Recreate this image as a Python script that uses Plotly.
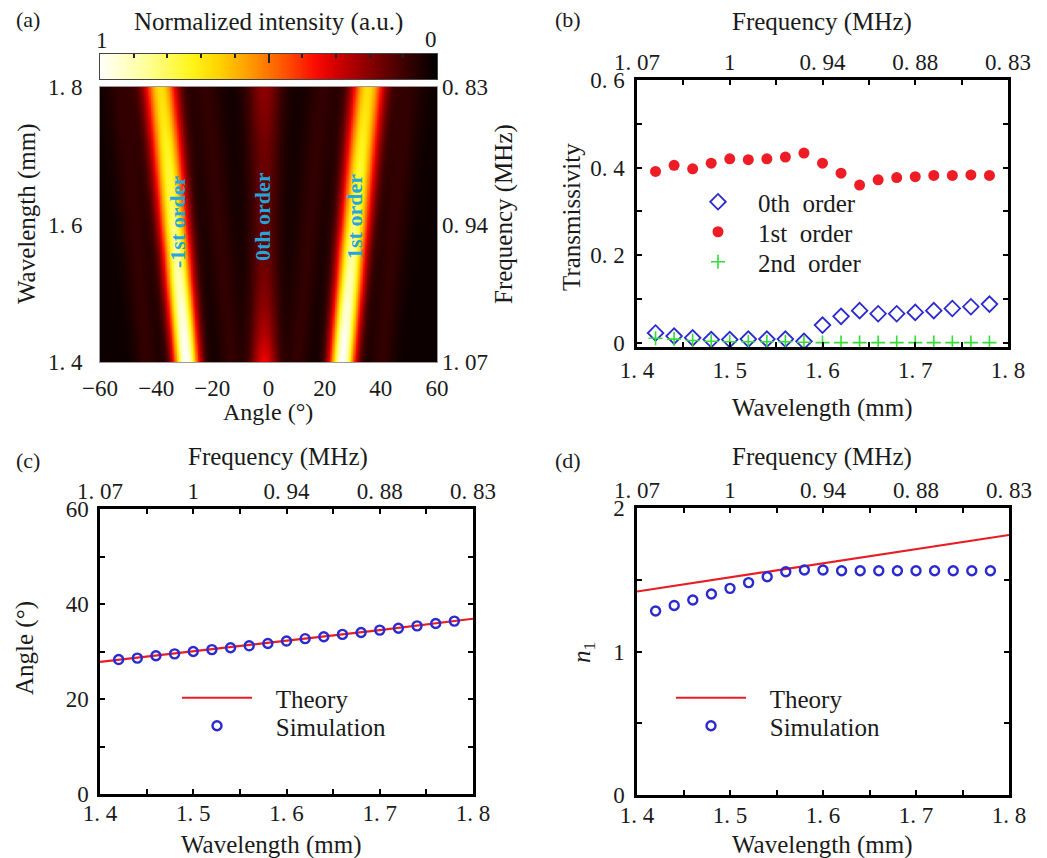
import numpy as np
import plotly.graph_objects as go

W, H = 1047, 858
FONT = "Liberation Serif"
TXT = "#1a1a1a"
NB = "\u00a0"

# ---------------- data ----------------
wavelength = [1.42, 1.44, 1.46, 1.48, 1.50, 1.52, 1.54, 1.56, 1.58, 1.60,
              1.62, 1.64, 1.66, 1.68, 1.70, 1.72, 1.74, 1.76, 1.78]
order0 = [0.022, 0.015, 0.011, 0.007, 0.007, 0.008, 0.008, 0.008, 0.003, 0.040,
          0.060, 0.073, 0.066, 0.066, 0.069, 0.073, 0.078, 0.082, 0.088]
order1 = [0.391, 0.405, 0.397, 0.410, 0.420, 0.418, 0.420, 0.424, 0.433, 0.410,
          0.387, 0.360, 0.372, 0.377, 0.379, 0.382, 0.382, 0.383, 0.382]
order2 = [0.010, 0.008, 0.005, 0.003, 0.002, 0.002, 0.002, 0.002, 0.001, 0.0,
          0.0, 0.0, 0.0, 0.0, 0.0, 0.0, 0.0, 0.0, 0.0]
sim_angle = [28.3, 28.6, 29.1, 29.5, 30.0, 30.4, 30.8, 31.2, 31.7, 32.2,
             32.7, 33.1, 33.6, 34.0, 34.5, 34.9, 35.4, 35.9, 36.4]
sim_n1 = [1.282, 1.321, 1.359, 1.401, 1.440, 1.480, 1.521, 1.556, 1.568, 1.568,
          1.563, 1.563, 1.563, 1.563, 1.563, 1.563, 1.563, 1.563, 1.563]
theory_wl = [1.40, 1.50, 1.60, 1.70, 1.80]
theory_angle = [27.8, 30.0, 32.2, 34.5, 36.9]
theory_n1 = [1.418, 1.517, 1.615, 1.713, 1.812]

# field map (panel a)
map_wavelength = [1.40, 1.44, 1.48, 1.52, 1.56, 1.60, 1.64, 1.68, 1.72, 1.76, 1.80]
map_half_angle = [27.8, 28.6, 29.5, 30.4, 31.2, 32.2, 33.1, 34.0, 34.9, 35.9, 36.9]
map_first_peak = [1.00, 0.97, 0.93, 0.89, 0.85, 0.81, 0.77, 0.74, 0.71, 0.68, 0.66]
map_zero_peak = [0.32, 0.24, 0.19, 0.16, 0.14, 0.13, 0.13, 0.14, 0.15, 0.17, 0.19]
map_beam_width = [3.1, 3.2, 3.3, 3.4, 3.5, 3.6, 3.7, 3.8, 3.9, 4.0, 4.1]
map_axis_angle = -1.6
side_lobe_offsets = [-16.0, 14.0]
side_lobe_level = 0.06
background_level = 0.02

angle_grid = np.linspace(-60, 60, 481)

freq_ticks = [1.4, 1.5, 1.6, 1.7, 1.8]
freq_text = ["1. 07", "1", "0. 94", "0. 88", "0. 83"]
wl_text = ["1. 4", "1. 5", "1. 6", "1. 7", "1. 8"]


def g(a, c, w):
    return np.exp(-0.5 * ((a - c) / w) ** 2)


z = []
for th, p1, p0, w in zip(map_half_angle, map_first_peak, map_zero_peak, map_beam_width):
    c = map_axis_angle
    row = background_level + p0 * g(angle_grid, c, w * 1.1) \
        + p1 * (g(angle_grid, c - th, w) + g(angle_grid, c + th, w))
    for off in side_lobe_offsets:
        row = row + side_lobe_level * (g(angle_grid, c - th - off, w) + g(angle_grid, c + th + off, w))
    z.append(np.clip(row, 0, 1))
z = np.array(z)

hot = [[0.0, 'rgb(0,0,0)'], [0.1, 'rgb(62,0,0)'], [0.2, 'rgb(135,0,0)'],
       [0.3, 'rgb(210,0,0)'], [0.36, 'rgb(250,10,0)'], [0.45, 'rgb(255,80,0)'],
       [0.55, 'rgb(255,150,0)'], [0.65, 'rgb(255,212,0)'], [0.73, 'rgb(255,245,25)'],
       [0.86, 'rgb(255,255,150)'], [1.0, 'rgb(255,255,250)']]

cb_vals = np.linspace(0, 1, 201)


def px(p):
    return p / W


def py(p):
    return 1 - p / H


fig = go.Figure()

# panel a
fig.add_trace(go.Heatmap(x=angle_grid, y=map_wavelength, z=z, colorscale=hot, zmin=0, zmax=1,
                         zsmooth='best', showscale=False, xaxis='x', yaxis='y', hoverinfo='skip'))
# invisible carrier for the right-hand frequency axis
fig.add_trace(go.Scatter(x=map_half_angle, y=map_wavelength, mode='markers', marker=dict(opacity=0),
                         showlegend=False, hoverinfo='skip', xaxis='x', yaxis='y2'))
# colour bar as its own strip (1 on the left, 0 on the right)
fig.add_trace(go.Heatmap(x=cb_vals, y=[0.5], z=[cb_vals], colorscale=hot, zmin=0, zmax=1,
                         zsmooth='best', showscale=False, xaxis='x2', yaxis='y3', hoverinfo='skip'))

# panel b
fig.add_trace(go.Scatter(x=wavelength, y=order0, mode='markers', name='0th' + NB + ' order',
                         marker=dict(symbol='diamond-open', size=12, color='#2a2ad0', line=dict(width=1.8)),
                         xaxis='x3', yaxis='y4', legend='legend'))
fig.add_trace(go.Scatter(x=wavelength, y=order1, mode='markers', name='1st' + NB + ' order',
                         marker=dict(symbol='circle', size=11, color='#ee1c24'),
                         xaxis='x3', yaxis='y4', legend='legend4'))
fig.add_trace(go.Scatter(x=wavelength, y=order2, mode='markers', name='2nd' + NB + ' order',
                         marker=dict(symbol='cross-thin-open', size=10, color='#33dd33', line=dict(width=1.6)),
                         xaxis='x3', yaxis='y4', legend='legend5'))
fig.add_trace(go.Scatter(x=wavelength, y=order1, mode='markers', marker=dict(opacity=0),
                         showlegend=False, hoverinfo='skip', xaxis='x4', yaxis='y4'))

# panel c
fig.add_trace(go.Scatter(x=theory_wl, y=theory_angle, mode='lines', name=NB * 3 + 'Theory',
                         line=dict(color='#e81c24', width=2.2), xaxis='x5', yaxis='y5', legend='legend2'))
fig.add_trace(go.Scatter(x=wavelength, y=sim_angle, mode='markers', name=NB * 3 + 'Simulation',
                         marker=dict(symbol='circle-open', size=9, color='#2a2ad0', line=dict(width=2.4)),
                         xaxis='x5', yaxis='y5', legend='legend6'))
fig.add_trace(go.Scatter(x=wavelength, y=sim_angle, mode='markers', marker=dict(opacity=0),
                         showlegend=False, hoverinfo='skip', xaxis='x6', yaxis='y5'))

# panel d
fig.add_trace(go.Scatter(x=theory_wl, y=theory_n1, mode='lines', name=NB * 3 + 'Theory',
                         line=dict(color='#e81c24', width=2.2), xaxis='x7', yaxis='y6', legend='legend3'))
fig.add_trace(go.Scatter(x=wavelength, y=sim_n1, mode='markers', name=NB * 3 + 'Simulation',
                         marker=dict(symbol='circle-open', size=9, color='#2a2ad0', line=dict(width=2.4)),
                         xaxis='x7', yaxis='y6', legend='legend7'))
fig.add_trace(go.Scatter(x=wavelength, y=sim_n1, mode='markers', marker=dict(opacity=0),
                         showlegend=False, hoverinfo='skip', xaxis='x8', yaxis='y6'))

tickfont = dict(family=FONT, size=23, color=TXT)
legfont = dict(family=FONT, size=25, color=TXT)

frame = dict(showline=True, linewidth=2.5, linecolor='black', mirror='allticks',
             ticks='inside', ticklen=5, tickwidth=2, tickcolor='black', automargin=False,
             showgrid=False, zeroline=False, tickfont=tickfont, ticklabelstandoff=0)


def bottom_x(dom, anchor, standoff):
    return dict(frame, domain=dom, anchor=anchor, range=[1.4, 1.8], tickmode='array',
                tickvals=freq_ticks, ticktext=wl_text, ticklabelstandoff=standoff,
                minor=dict(dtick=0.05, tick0=1.4, ticks='inside', ticklen=5, tickwidth=2, tickcolor='black'))


def top_x(over, anchor):
    return dict(overlaying=over, anchor=anchor, side='top', range=[1.4, 1.8], tickmode='array',
                tickvals=freq_ticks, ticktext=freq_text, ticks='', showline=False, automargin=False,
                showgrid=False, zeroline=False, tickfont=tickfont, ticklabelstandoff=4)


def left_y(dom, anchor, rng, vals, texts, minor, standoff):
    return dict(frame, domain=dom, anchor=anchor, range=rng, tickmode='array', tickvals=vals,
                ticktext=texts, ticklabelstandoff=standoff,
                minor=dict(dtick=minor, tick0=0, ticks='inside', ticklen=5, tickwidth=2, tickcolor='black'))


def leg(xc, yc):
    # one legend entry: symbol centred at pixel xc, row centred at pixel yc
    return dict(x=px(xc - 40), y=py(yc), xanchor='left', yanchor='middle',
                bgcolor='rgba(0,0,0,0)', font=legfont, itemwidth=70)


hm_dom_x = [px(100), px(437)]
hm_dom_y = [py(362), py(87)]

layout = dict(
    width=W, height=H, margin=dict(l=0, r=0, t=0, b=0, autoexpand=False),
    paper_bgcolor='white', plot_bgcolor='white',
    font=dict(family=FONT, size=23, color=TXT),
    xaxis=dict(domain=hm_dom_x, anchor='y', range=[-60, 60], tickmode='array',
               tickvals=[-60, -40, -20, 0, 20, 40, 60], ticks='', showgrid=False, zeroline=False,
               showline=True, linecolor='#9a9a9a', linewidth=1, mirror=True, automargin=False,
               tickfont=tickfont, ticklabelstandoff=5),
    yaxis=dict(domain=hm_dom_y, anchor='x', range=[1.4, 1.8], tickmode='array',
               tickvals=[1.4, 1.6, 1.8], ticktext=["1. 4", "1. 6", "1. 8"], ticks='',
               showgrid=False, zeroline=False, showline=True, linecolor='#9a9a9a', linewidth=1,
               mirror=True, automargin=False, tickfont=tickfont, ticklabelstandoff=12),
    yaxis2=dict(overlaying='y', anchor='x', side='right', range=[1.4, 1.8], tickmode='array',
                tickvals=[1.4, 1.6, 1.8], ticktext=["1. 07", "0. 94", "0. 83"], ticks='',
                showgrid=False, zeroline=False, showline=False, automargin=False,
                tickfont=tickfont, ticklabelstandoff=4),
    xaxis2=dict(domain=hm_dom_x, anchor='y3', range=[1, 0], side='top', tickmode='array',
                tickvals=[0.5], showticklabels=False, ticks='inside', ticklen=9, tickwidth=2,
                tickcolor='#222', automargin=False,
                minor=dict(dtick=0.1, tick0=0, ticks='inside', ticklen=4, tickwidth=1.5, tickcolor='#222'),
                showline=True, linecolor='#444', linewidth=1, mirror=True, showgrid=False, zeroline=False),
    yaxis3=dict(domain=[py(79), py(54)], anchor='x2', range=[0, 1], showticklabels=False, ticks='',
                automargin=False, showgrid=False, zeroline=False, showline=True, linecolor='#444',
                linewidth=1, mirror=True),
    xaxis3=bottom_x([px(637), px(1008)], 'y4', 1),
    xaxis4=top_x('x3', 'y4'),
    yaxis4=left_y([py(347), py(80)], 'x3', [-0.01, 0.6], [0, 0.2, 0.4, 0.6],
                  ["0", "0. 2", "0. 4", "0. 6"], 0.1, 5),
    xaxis5=bottom_x([px(100), px(473)], 'y5', -3),
    xaxis6=top_x('x5', 'y5'),
    yaxis5=left_y([py(794), py(509)], 'x5', [0, 60], [0, 20, 40, 60], ["0", "20", "40", "60"], 10, 4),
    xaxis7=bottom_x([px(637), px(1009)], 'y6', -2),
    xaxis8=top_x('x7', 'y6'),
    yaxis6=left_y([py(795), py(508)], 'x7', [0, 2], [0, 1, 2], ["0", "1", "2"], 0.5, 5),
    legend=leg(718, 202),
    legend4=leg(718, 232),
    legend5=leg(718, 262),
    legend2=leg(217, 698),
    legend6=leg(217, 726),
    legend3=leg(711, 698),
    legend7=leg(711, 726),
)
fig.update_layout(**layout)


def ann(text, x, y, size=25, angle=0, color=TXT, bold=False):
    if bold:
        text = "<b>" + text + "</b>"
    fig.add_annotation(text=text, x=px(x), y=py(y), xref='paper', yref='paper', showarrow=False,
                       xanchor='center', yanchor='middle', textangle=angle,
                       font=dict(family=FONT, size=size, color=color))


# panel letters
ann("(a)", 28, 20, size=22)
ann("(b)", 568, 20, size=22)
ann("(c)", 28, 460, size=22)
ann("(d)", 568, 460, size=22)

# panel a texts
ann("Normalized intensity (a.u.)", 268, 22)
ann("1", 102, 41, size=23)
ann("0", 431, 40, size=23)
ann("Wavelength (mm)", 27, 214, angle=-90)
ann("Frequency (MHz)", 504, 214, angle=-90)
ann("Angle (°)", 268, 412, size=24)
cyan = '#22a6dc'
ann("-1st order", 177, 222, size=22, angle=-90, color=cyan, bold=True)
ann("0th order", 263, 217, size=22, angle=-90, color=cyan, bold=True)
ann("1st order", 355, 217, size=22, angle=-90, color=cyan, bold=True)

# panel b texts
ann("Frequency (MHz)", 822, 22)
ann("Transmissivity", 572, 217, angle=-90)
ann("Wavelength (mm)", 822, 408)

# panel c texts
ann("Frequency (MHz)", 278, 457)
ann("Angle (°)", 25, 648, angle=-90)
ann("Wavelength (mm)", 271, 845)

# panel d texts
ann("Frequency (MHz)", 822, 457)
ann("<i>n</i><sub>1</sub>", 583, 653, angle=-90)
ann("Wavelength (mm)", 822, 845)

fig.write_html("out.html", config={'displayModeBar': False},
               post_script="document.body.style.margin='0';document.body.style.overflow='hidden';")
